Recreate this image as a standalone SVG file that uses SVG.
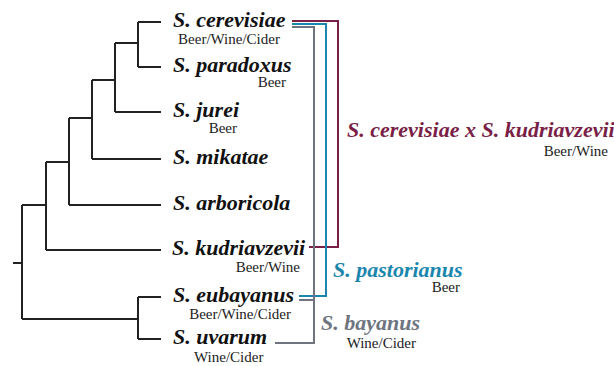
<svg xmlns="http://www.w3.org/2000/svg" width="614" height="366" viewBox="0 0 614 366">
<style>
.t{fill:none;stroke:#222;stroke-width:2}
.n{font-family:"Liberation Serif","Times New Roman",Times,"DejaVu Serif",serif;font-weight:bold;font-style:italic;font-size:22px;fill:#111}
.s{font-family:"Liberation Serif","Times New Roman",Times,"DejaVu Serif",serif;font-size:15px;fill:#222}
.m{stroke:#7a1f47;fill:none;stroke-width:2}
.b{stroke:#1b86ad;fill:none;stroke-width:2}
.g{stroke:#6e7580;fill:none;stroke-width:2}
</style>
<rect width="614" height="366" fill="#fff"/>
<g id="connectors">
<path class="t" d="M13 263H22M22 205V319M22 205H46M46 162V250M46 162H69M69 118V205M69 118H92M92 80V159M92 80H115M115 43V112M115 43H138M138 22V67M138 22H161M138 67H161M115 112H161M92 159H161M69 205H161M46 250H161M22 319H138M138 297V339M138 297H161M138 339H161"/>
<path class="m" d="M292 21H338V247H309"/>
<path class="b" d="M292 24H326V296H299"/>
<path class="g" d="M292 27H314V343H275M299 300H314"/>
</g>
<g id="cerevisiae"><text class="n" x="173" y="27">S. cerevisiae</text><text class="s" x="229" y="44" text-anchor="middle">Beer/Wine/Cider</text></g>
<g id="paradoxus"><text class="n" x="173" y="72">S. paradoxus</text><text class="s" x="286" y="87" text-anchor="end">Beer</text></g>
<g id="jurei"><text class="n" x="173" y="117">S. jurei</text><text class="s" x="237" y="133" text-anchor="end">Beer</text></g>
<g id="mikatae"><text class="n" x="173" y="164">S. mikatae</text></g>
<g id="arboricola"><text class="n" x="173" y="210">S. arboricola</text></g>
<g id="kudriavzevii"><text class="n" x="172" y="255">S. kudriavzevii</text><text class="s" x="300" y="272" text-anchor="end">Beer/Wine</text></g>
<g id="eubayanus"><text class="n" x="173" y="302">S. eubayanus</text><text class="s" x="291" y="319" text-anchor="end">Beer/Wine/Cider</text></g>
<g id="uvarum"><text class="n" x="173" y="344">S. uvarum</text><text class="s" x="194" y="362">Wine/Cider</text></g>
<g id="hybrid"><text class="n" x="347" y="137" style="fill:#7a1f47">S. cerevisiae x S. kudriavzevii</text><text class="s" x="608" y="156" text-anchor="end">Beer/Wine</text></g>
<g id="pastorianus"><text class="n" x="333" y="277" style="fill:#1b86ad">S. pastorianus</text><text class="s" x="460" y="292" text-anchor="end">Beer</text></g>
<g id="bayanus"><text class="n" x="321" y="330" style="fill:#6e7580">S. bayanus</text><text class="s" x="416" y="348" text-anchor="end">Wine/Cider</text></g>
</svg>
